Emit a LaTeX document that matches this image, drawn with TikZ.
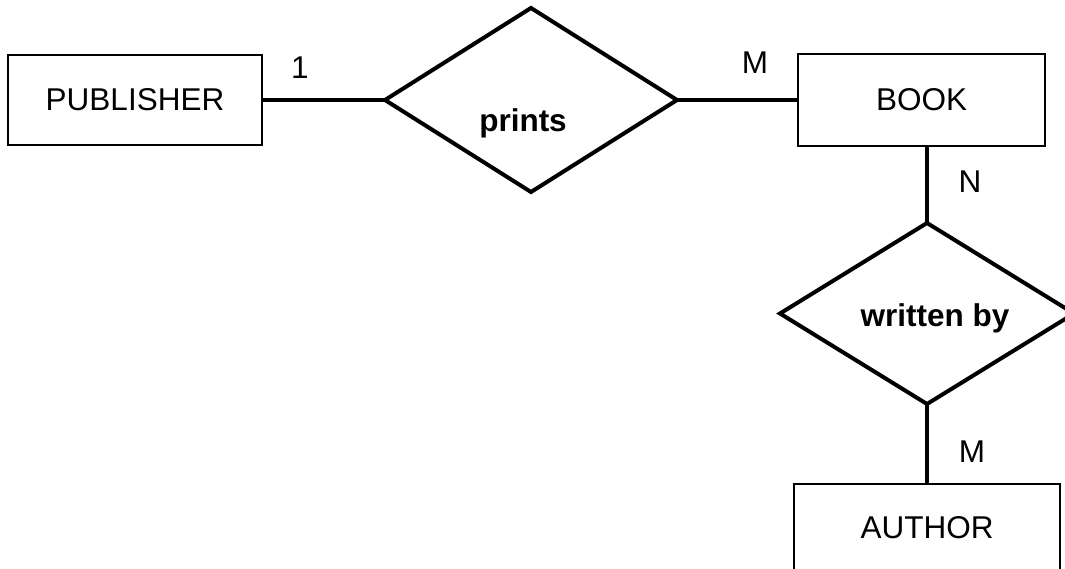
\documentclass[tikz,border=0pt]{standalone}
\usepackage{fontspec}
\setmainfont{Liberation Sans}
\usetikzlibrary{shapes.geometric}
\begin{document}
\begin{tikzpicture}[x=1pt,y=-1pt,
  every node/.style={font=\fontsize{31.5}{36}\selectfont, inner sep=0pt, outer sep=0pt},
  entity/.style={draw, line width=1.5pt, rectangle},
  relation/.style={draw, line width=4pt, diamond, shape aspect=1},
  conn/.style={line width=4pt},
  rtext/.style={font=\fontsize{31.5}{36}\selectfont\bfseries},
  card/.style={}]
\useasboundingbox (0,0) rectangle (1065,569);
\clip (0,0) rectangle (1065,569);
\node[entity, minimum width=254pt, minimum height=90pt] (pub) at (135,100) {PUBLISHER};
\node[entity, minimum width=247pt, minimum height=92pt] (book) at (921.5,100) {BOOK};
\node[entity, minimum width=266pt, minimum height=88pt] (author) at (927,528) {AUTHOR};
\node[relation, minimum width=292pt, minimum height=184pt] (prints) at (531,100) {};
\node[relation, minimum width=294pt, minimum height=181pt] (wb) at (927,313.5) {};
\node[rtext] (printsT) at (523,123) {prints};
\node[rtext] (wbT) at (935,318) {written by};
\draw[conn] (pub.east) -- (prints.west);
\draw[conn] (prints.east) -- (book.west);
\draw[conn] (wb.north |- book.south) -- (wb.north);
\draw[conn] (wb.south) -- (author.north);
\node[card] (c1) at (300,68) {1};
\node[card] (c2) at (755,63) {M};
\node[card] (c3) at (970,182) {N};
\node[card] (c4) at (972,452) {M};
\end{tikzpicture}
\end{document}
